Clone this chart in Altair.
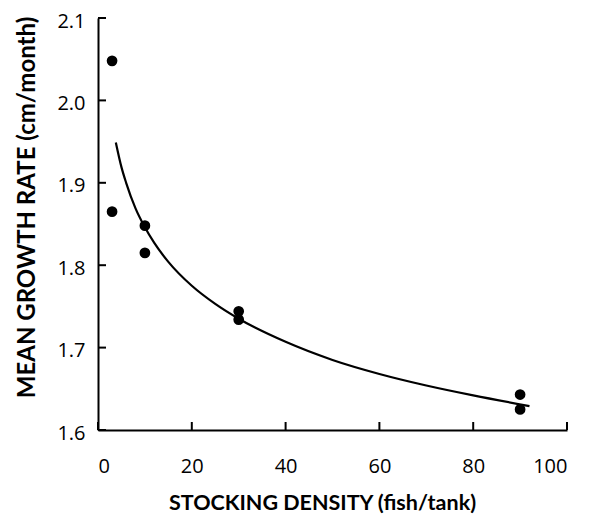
import altair as alt
import pandas as pd

density = [3, 3, 10, 10, 30, 30, 90, 90]
growth = [2.048, 1.865, 1.848, 1.815, 1.744, 1.734, 1.643, 1.625]

# Fitted curve
curve_x = [3.8, 5, 6, 8, 10, 12, 15, 20, 25, 30, 40, 50, 60, 70, 80, 92]
curve_y = [1.949, 1.919, 1.900, 1.869, 1.846, 1.827, 1.804, 1.775, 1.753,
           1.735, 1.707, 1.685, 1.668, 1.654, 1.642, 1.629]

x_ticks = [0, 20, 40, 60, 80, 100]
y_ticks = [1.6, 1.7, 1.8, 1.9, 2.0, 2.1]

W, H = 469, 412
TITLE_FONT = "Lato"
LABEL_FONT = "Open Sans"

pts = pd.DataFrame({"x": density, "y": growth})
crv = pd.DataFrame({"x": curve_x, "y": curve_y})
xt = pd.DataFrame({"x": x_ticks})
yt = pd.DataFrame({"y": y_ticks})

xscale = alt.Scale(domain=[0, 100], nice=False, zero=False)
yscale = alt.Scale(domain=[1.6, 2.1], nice=False, zero=False)

xaxis = alt.Axis(values=x_ticks, ticks=False, grid=False, domainColor="black",
                 domainWidth=2, labelFont=LABEL_FONT, labelFontSize=20, labelColor="black",
                 labelPadding=26, title="STOCKING DENSITY (fish/tank)",
                 titleFont=TITLE_FONT, titleFontSize=21.5, titleFontWeight="bold",
                 titleColor="black", titleX=224, titleY=73,
                 titleAlign="center", titleBaseline="middle")
yaxis = alt.Axis(values=y_ticks, ticks=False, grid=False, domainColor="black",
                 domainWidth=2, labelFont=LABEL_FONT, labelFontSize=20, labelColor="black",
                 labelPadding=13, labelOffset=3, format=".1f",
                 title="MEAN GROWTH RATE (cm/month)",
                 titleFont=TITLE_FONT, titleFontSize=24, titleFontWeight="bold",
                 titleColor="black", titleX=-71, titleY=189, titleAngle=-90,
                 titleAlign="center", titleBaseline="middle")

points = alt.Chart(pts).mark_circle(size=115, color="black", opacity=1).encode(
    x=alt.X("x:Q", scale=xscale, axis=xaxis),
    y=alt.Y("y:Q", scale=yscale, axis=yaxis),
)
line = alt.Chart(crv).mark_line(color="black", strokeWidth=2.2, interpolate="monotone").encode(
    x=alt.X("x:Q", scale=xscale),
    y=alt.Y("y:Q", scale=yscale),
)
xtick = alt.Chart(xt).mark_rule(color="black", strokeWidth=2).encode(
    x=alt.X("x:Q", scale=xscale),
    y=alt.value(H),
    y2=alt.value(H - 8),
)
ytick = alt.Chart(yt).mark_rule(color="black", strokeWidth=2).encode(
    y=alt.Y("y:Q", scale=yscale),
    x=alt.value(0),
    x2=alt.value(8),
)

chart = alt.layer(line, points, xtick, ytick).properties(
    width=W, height=H,
    autosize=alt.AutoSizeParams(type="none"),
    padding={"left": 90, "top": 10, "right": 14, "bottom": 87},
    background="white",
).configure_view(stroke=None)

chart.save("out.html", embed_options={"renderer": "svg", "actions": False})
